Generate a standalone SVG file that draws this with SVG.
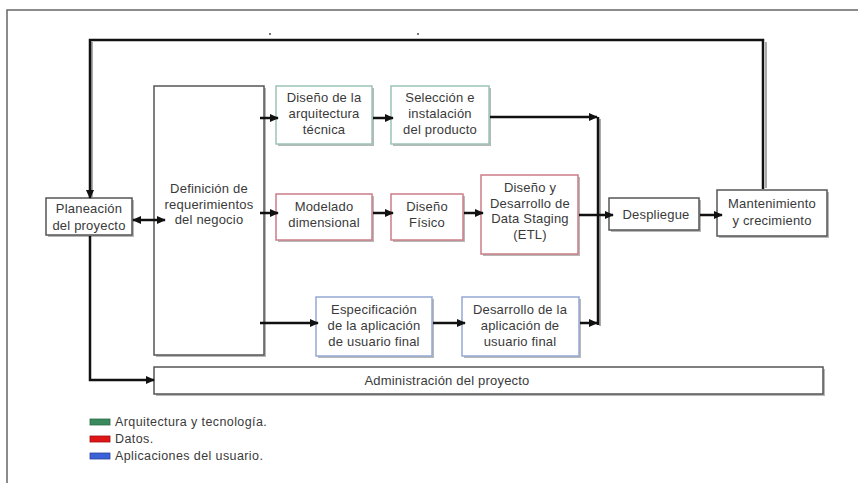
<svg xmlns="http://www.w3.org/2000/svg" width="858" height="483" viewBox="0 0 858 483">
<defs>
<marker id="ah" viewBox="0 0 10 10" refX="9" refY="5" markerWidth="3.8" markerHeight="3.6" orient="auto-start-reverse" markerUnits="strokeWidth">
<path d="M0,0.5 L10,5 L0,9.5 Z" fill="#111"/>
</marker>
</defs>
<style>
text{font-family:"Liberation Sans",Arial,sans-serif;font-size:13px;letter-spacing:0.2px;fill:#3a3a3a;text-anchor:middle}
.lg{font-size:12.5px;letter-spacing:0.4px;text-anchor:start}
.sh{fill:#b8b8b8;stroke:none}
.bx{fill:#fff;stroke-width:1.5}
.k{stroke:#555}
.g{stroke:#9cc4b4}
.r{stroke:#cc7d86}
.b{stroke:#95a8d4}
.c{fill:none;stroke:#111;stroke-width:2.5}
.cs{fill:none;stroke:#aaa;stroke-width:2}
</style>
<rect x="0" y="0" width="858" height="483" fill="#fff"/>
<path d="M7,483 V10 H858" fill="none" stroke="#666" stroke-width="1.5"/>
<circle cx="270" cy="34" r="0.9" fill="#333"/>
<circle cx="418" cy="34" r="0.9" fill="#333"/>

<g id="planeacion">
<rect class="sh" x="48" y="200" width="86" height="37"/>
<rect class="bx k" x="46" y="198" width="86" height="37"/>
<text x="89" y="213">Planeación</text>
<text x="89" y="230">del proyecto</text>
</g>

<g id="definicion">
<rect class="sh" x="156" y="88" width="110" height="269"/>
<rect class="bx k" x="154" y="86" width="110" height="269"/>
<text x="209" y="193">Definición de</text>
<text x="209" y="209">requerimientos</text>
<text x="209" y="224">del negocio</text>
</g>

<g id="arquitectura">
<rect class="sh" x="278" y="88" width="96" height="58"/>
<rect class="bx g" x="276" y="86" width="96" height="58"/>
<text x="324" y="102">Diseño de la</text>
<text x="324" y="118">arquitectura</text>
<text x="324" y="134">técnica</text>
</g>

<g id="seleccion">
<rect class="sh" x="393" y="88" width="98" height="58"/>
<rect class="bx g" x="391" y="86" width="98" height="58"/>
<text x="440" y="102">Selección e</text>
<text x="440" y="118">instalación</text>
<text x="440" y="134">del producto</text>
</g>

<g id="modelado">
<rect class="sh" x="278" y="196" width="96" height="46"/>
<rect class="bx r" x="276" y="194" width="96" height="46"/>
<text x="324" y="211">Modelado</text>
<text x="324" y="227">dimensional</text>
</g>

<g id="fisico">
<rect class="sh" x="393" y="196" width="72" height="46"/>
<rect class="bx r" x="391" y="194" width="72" height="46"/>
<text x="427" y="211">Diseño</text>
<text x="427" y="227">Físico</text>
</g>

<g id="etl">
<rect class="sh" x="483" y="177" width="97" height="79"/>
<rect class="bx r" x="481" y="175" width="97" height="79"/>
<text x="530" y="192">Diseño y</text>
<text x="530" y="208">Desarrollo de</text>
<text x="530" y="223">Data Staging</text>
<text x="530" y="239">(ETL)</text>
</g>

<g id="despliegue">
<rect class="sh" x="611" y="200" width="90" height="32"/>
<rect class="bx k" x="609" y="198" width="90" height="32"/>
<text x="656" y="219">Despliegue</text>
</g>

<g id="mantenimiento">
<rect class="sh" x="719" y="192" width="110" height="46"/>
<rect class="bx k" x="717" y="190" width="110" height="46"/>
<text x="772" y="208">Mantenimiento</text>
<text x="772" y="225">y crecimiento</text>
</g>

<g id="especificacion">
<rect class="sh" x="318" y="299" width="116" height="59"/>
<rect class="bx b" x="316" y="297" width="116" height="59"/>
<text x="374" y="314">Especificación</text>
<text x="374" y="330">de la aplicación</text>
<text x="374" y="346">de usuario final</text>
</g>

<g id="desarrollo-app">
<rect class="sh" x="464" y="299" width="117" height="59"/>
<rect class="bx b" x="462" y="297" width="117" height="59"/>
<text x="520" y="314">Desarrollo de la</text>
<text x="520" y="330">aplicación de</text>
<text x="520" y="346">usuario final</text>
</g>

<g id="administracion">
<rect class="sh" x="156" y="369" width="669" height="27"/>
<rect class="bx k" x="154" y="367" width="669" height="27"/>
<text x="447" y="385">Administración del proyecto</text>
</g>

<g id="connectors">
<path class="cs" d="M600,119 V326"/>
<path class="cs" d="M766,42 V188"/>
<path class="cs" d="M92,42 V197"/>
<path class="c" d="M763,189 V40 H90 V198" marker-end="url(#ah)"/>
<path class="c" d="M90,236 V380 H154" marker-end="url(#ah)"/>
<path class="c" d="M133,220 H165" marker-start="url(#ah)" marker-end="url(#ah)"/>
<path class="c" d="M260,118 H278" marker-end="url(#ah)"/>
<path class="c" d="M373,118 H393" marker-end="url(#ah)"/>
<path class="c" d="M490,117 H597" marker-end="url(#ah)"/>
<path class="c" d="M598,117 V325"/>
<path class="c" d="M260,213 H278" marker-end="url(#ah)"/>
<path class="c" d="M373,213 H393" marker-end="url(#ah)"/>
<path class="c" d="M464,213 H483" marker-end="url(#ah)"/>
<path class="c" d="M579,215 H613" marker-end="url(#ah)"/>
<path class="c" d="M700,215 H722" marker-end="url(#ah)"/>
<path class="c" d="M260,323 H318" marker-end="url(#ah)"/>
<path class="c" d="M433,323 H465" marker-end="url(#ah)"/>
<path class="c" d="M580,323 H597" marker-end="url(#ah)"/>
</g>

<g id="legend">
<rect x="90" y="419" width="20" height="6" fill="#3a8a5e" stroke="#2a6a46" stroke-width="0.8"/>
<rect x="90" y="436" width="20" height="6" fill="#e01515" stroke="#a01010" stroke-width="0.8"/>
<rect x="90" y="453" width="20" height="6" fill="#3d62d8" stroke="#2a459a" stroke-width="0.8"/>
<text class="lg" x="115" y="426">Arquitectura y tecnología.</text>
<text class="lg" x="115" y="443">Datos.</text>
<text class="lg" x="115" y="460">Aplicaciones del usuario.</text>
</g>
</svg>
